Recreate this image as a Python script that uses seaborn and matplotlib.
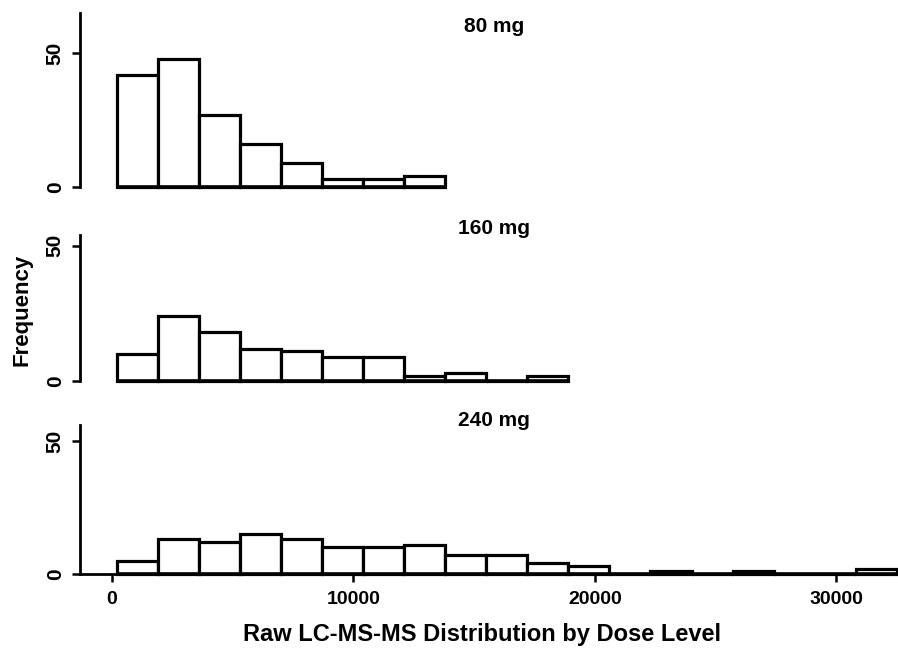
import numpy as np
import pandas as pd
import matplotlib
matplotlib.use('Agg')
import matplotlib.pyplot as plt
import seaborn as sns

# histogram bins
bin_start = 200
bin_width = 1700
doses = ['80 mg', '160 mg', '240 mg']
counts_80 = [42, 48, 27, 16, 9, 3, 3, 4]
counts_160 = [10, 24, 18, 12, 11, 9, 9, 2, 3, 0, 2]
counts_240 = [5, 13, 12, 15, 13, 10, 10, 11, 7, 7, 4, 3, 0, 1, 0, 1, 0, 0, 2]
x_ticks = [0, 10000, 20000, 30000]
y_ticks = [0, 50]

sns.set_style('ticks', {'axes.edgecolor': 'black', 'text.color': 'black',
                        'xtick.color': 'black', 'ytick.color': 'black'})
plt.rcParams['font.family'] = ['Liberation Sans', 'DejaVu Sans']

W, H = 898, 652
fig = plt.figure(figsize=(W / 100, H / 100), dpi=100)

# pixel boxes of each panel: (top, bottom) of y axis line
boxes = [(13, 187), (235, 381), (425, 574)]
ytops = [65, 54, 56]
title_y = [27, 228, 420]
x_left, x_right = 80, 898
xlim = (-1320, 32550)

axes = []
for i, counts in enumerate([counts_80, counts_160, counts_240]):
    top, bot = boxes[i]
    ax = fig.add_axes([x_left / W, 1 - bot / H, (x_right - x_left) / W, (bot - top) / H])
    edges = [bin_start + bin_width * k for k in range(len(counts) + 1)]
    centers = [e + bin_width / 2 for e in edges[:-1]]
    df = pd.DataFrame({'value': centers, 'n': counts})
    sns.histplot(data=df, x='value', weights='n', bins=edges, ax=ax,
                 color='white', edgecolor='black', linewidth=2.3, alpha=1)
    for p in ax.patches:
        p.set_clip_on(False)
    # empty bins still show as a flat line in the original
    ax.plot([edges[0], edges[-1]], [0, 0], color='black', lw=2.6,
            clip_on=False, zorder=5, solid_capstyle='butt')
    ax.set_xlim(*xlim)
    ax.set_ylim(0, ytops[i])
    ax.set_yticks(y_ticks)
    ax.set_yticklabels([str(t) for t in y_ticks], rotation=90, va='center',
                       fontsize=15, fontweight='bold', color='black')
    ax.set_ylabel('')
    ax.set_xlabel('')
    sns.despine(ax=ax, top=True, right=True, bottom=(i < 2))
    ax.spines['left'].set_linewidth(2)
    ax.tick_params(axis='y', width=1.8, length=6, pad=5)
    if i < 2:
        ax.set_xticks([])
    else:
        ax.spines['bottom'].set_linewidth(2)
        ax.set_xticks(x_ticks)
        ax.set_xticklabels([str(t) for t in x_ticks], fontsize=14, fontweight='bold',
                           color='black')
        ax.tick_params(axis='x', width=1.8, length=6, pad=6)
    fig.text(494 / W, 1 - title_y[i] / H, doses[i], ha='center', va='center',
             fontsize=15, fontweight='bold', color='black')
    axes.append(ax)

fig.text(22 / W, 1 - 310 / H, 'Frequency', rotation=90, ha='center', va='center',
         fontsize=16, fontweight='bold', color='black')
fig.text(482 / W, 1 - 635 / H, 'Raw LC-MS-MS Distribution by Dose Level', ha='center',
         va='center', fontsize=17, fontweight='bold', color='black')

fig.savefig('out.png', dpi=100)
